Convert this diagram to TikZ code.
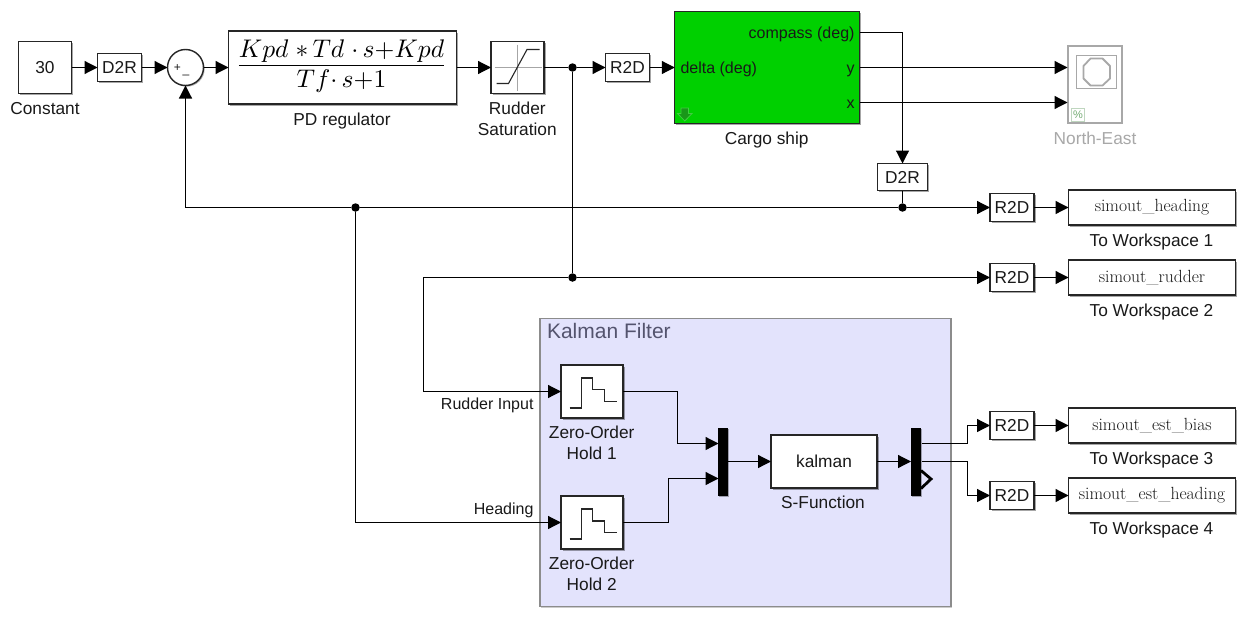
\documentclass[tikz,border=0pt]{standalone}
\usepackage{fontspec}
\setsansfont{Liberation Sans}
\usetikzlibrary{arrows.meta,shadows}
\definecolor{bord}{HTML}{262626}
\definecolor{kal}{HTML}{E3E3FC}
\definecolor{kaltitle}{HTML}{54546E}
\definecolor{cargo}{HTML}{00D000}
\definecolor{dim}{HTML}{A8A8A8}
\tikzset{
  txt/.style={font=\sffamily\fontsize{17.3}{21}\selectfont,inner sep=0pt,outer sep=0pt,text=black!90},
  lbl/.style={txt,anchor=base,xshift=-0.5pt},
  lblc/.style={txt,align=center,xshift=-0.5pt},
  port/.style={txt,font=\sffamily\fontsize{16}{19}\selectfont},
  block/.style={txt,draw=bord,fill=white,line width=1.4pt,inner sep=0pt,outer sep=0pt,
     drop shadow={shadow xshift=1.5pt,shadow yshift=-1.5pt,fill=black,opacity=0.35}},
  conv/.style={block,minimum width=44pt,minimum height=28pt},
  ws/.style={block,minimum width=167pt,minimum height=35pt,font=\rmfamily\fontsize{17.6}{20}\selectfont},
  zoh/.style={block,minimum width=62pt,minimum height=53pt},
  barblk/.style={draw=none,fill=black,inner sep=0pt,outer sep=0pt,minimum width=10pt,minimum height=68pt,
     drop shadow={shadow xshift=1pt,shadow yshift=-1pt,fill=black,opacity=0.3}},
  wire/.style={line width=1.2pt,draw=black,-{Triangle[length=13pt,width=13pt]}},
  line/.style={line width=1.2pt,draw=black},
  dotj/.style={circle,fill=black,inner sep=0pt,minimum size=8.5pt},
  icon/.style={line width=1.1pt,draw=bord},
  axisg/.style={line width=0.8pt,draw=black!35},
  sig/.style={txt,font=\sffamily\fontsize{16}{18}\selectfont,anchor=base east}
}
\begin{document}
\begin{tikzpicture}[x=1pt,y=-1pt]
\useasboundingbox (0,0) rectangle (1249,621);
\fill[white] (0,0) rectangle (1249,621);
\begin{scope}[shift={(0.5,0.5)}]
% Kalman area
\node[draw=black!45,fill=kal,line width=1.1pt,minimum width=411pt,minimum height=288pt,inner sep=0pt,outer sep=0pt,
      drop shadow={shadow xshift=1pt,shadow yshift=-1pt,fill=black,opacity=0.2}] (kf) at (745,462) {};
\node[txt,anchor=base west,font=\sffamily\fontsize{21}{24}\selectfont,text=kaltitle] (kft) at (546.5,338) {Kalman Filter};
% top row
\node[block,minimum width=53pt,minimum height=52pt] (const) at (44.5,67) {30};
\node[lbl] (constl) at (45,114) {Constant};
\node[conv] (d2r1) at (119,67) {D2R};
\node[draw=bord,fill=white,circle,line width=1.4pt,minimum size=36pt,inner sep=0pt,outer sep=0pt,
      drop shadow={shadow xshift=1.2pt,shadow yshift=-1.2pt,fill=black,opacity=0.3}] (sum) at (185,67) {};
\node[txt,font=\sffamily\fontsize{12}{14}\selectfont] (sump) at (177,68) {+};
\node[txt,font=\sffamily\fontsize{12}{14}\selectfont] (summ) at (185.5,74) {\_};
\node[block,minimum width=228pt,minimum height=73pt] (pd) at (342,67) {};
\node[inner sep=0pt,outer sep=0pt,scale=2.55,anchor=base] (pdf) at (341,71) {$\frac{\displaystyle Kpd\;{*}\,Td\;{\cdot}\,s{+}Kpd\rule[-2.4pt]{0pt}{1pt}}{\displaystyle\rule{0pt}{8pt}Tf{\cdot}\,s{+}1}$};
\node[lbl] (pdl) at (342,125) {PD regulator};
\node[block,minimum width=53pt,minimum height=52pt] (sat) at (517,67) {};
\draw[axisg] (517,44) -- (517,90) (494,67) -- (541,67);
\draw[icon] (496,83) -- (508,83) -- (526.5,49) -- (539,49);
\node[lblc] (satl) at (517.3,118.3) {Rudder\\Saturation};
\node[conv] (r2d0) at (627,67) {R2D};
\node[block,fill=cargo,minimum width=184.5pt,minimum height=112pt] (ship) at (766.5,67) {};
\node[port,anchor=base west] (shipd) at (680,72.5) {delta (deg)};
\node[port,anchor=base east] (shipc) at (854,37.5) {compass (deg)};
\node[port,anchor=base east] (shipy) at (854,72.5) {y};
\node[port,anchor=base east] (shipx) at (854,107.5) {x};
\filldraw[fill=green!55!black!90,draw=green!75!black!75,line width=0.8pt] (680.5,107.5) -- (688,107.5) -- (688,113) -- (691.5,113) -- (684.3,120.5) -- (677,113) -- (680.5,113) -- cycle;
\node[lbl] (shipl) at (766.7,144) {Cargo ship};
% scope
\node[draw=dim,fill=white,line width=2.6pt,minimum width=54pt,minimum height=77pt,inner sep=0pt,outer sep=0pt] (scope) at (1094.5,84) {};
\draw[draw=dim,line width=0.9pt] (1076,55) rectangle (1116,88);
\draw[draw=dim,line width=1.8pt,line join=round] (1090,58) -- (1102,58) -- (1109.5,65.5) -- (1109.5,78) -- (1102,85) -- (1090,85) -- (1083,78) -- (1083,65.5) -- cycle;
\node[draw=green!35!black!25,fill=white,line width=0.8pt,minimum width=13pt,minimum height=13pt,inner sep=0pt,text=green!40!black!55,font=\sffamily\fontsize{11}{12}\selectfont] (pct) at (1077.5,114.5) {\%};
\node[lbl,text=dim] (scopel) at (1095,144) {North-East};
\node[conv,minimum width=50pt,minimum height=27pt] (d2r2) at (902,176.5) {D2R};
% right column
\node[conv] (r2d1) at (1011.5,207) {R2D};
\node[ws] (ws1) at (1151.5,207) {simout\_heading};
\node[lbl] (ws1l) at (1151.5,246) {To Workspace 1};
\node[conv] (r2d2) at (1011.5,277) {R2D};
\node[ws] (ws2) at (1151.5,277) {simout\_rudder};
\node[lbl] (ws2l) at (1151.5,316) {To Workspace 2};
\node[conv] (r2d3) at (1011.5,425) {R2D};
\node[ws] (ws3) at (1151.5,425) {simout\_est\_bias};
\node[lbl] (ws3l) at (1151.5,464) {To Workspace 3};
\node[conv] (r2d4) at (1011.5,495) {R2D};
\node[ws] (ws4) at (1151.5,495) {simout\_est\_heading};
\node[lbl] (ws4l) at (1151.5,534) {To Workspace 4};
% zero-order holds
\node[zoh] (zoh1) at (591.5,391) {};
\draw[icon] (569,407.5) -- (581,407.5) -- (581,377.5) -- (592.3,377.5) -- (592.3,389) -- (604,389) -- (604,400.7) -- (616,400.7);
\node[lblc] (zoh1l) at (591.7,442.2) {Zero-Order\\Hold 1};
\node[zoh] (zoh2) at (591.5,522) {};
\draw[icon] (569,538.5) -- (581,538.5) -- (581,508.5) -- (592.3,508.5) -- (592.3,520.5) -- (604,520.5) -- (604,532) -- (616,532);
\node[lblc] (zoh2l) at (591.7,573.2) {Zero-Order\\Hold 2};
\node[barblk] (mux) at (722.5,461) {};
\node[block,minimum width=106pt,minimum height=53pt] (kalman) at (823.5,461) {kalman};
\node[lbl] (kalmanl) at (823,508) {S-Function};
\node[barblk] (demux) at (915.5,461) {};
\draw[line width=2.8pt,line cap=butt] (920.5,470) -- (930.5,478.5) -- (920.5,488);
% junctions and bends
\node[dotj] (j1) at (572,67) {};
\node[dotj] (j2) at (902,207) {};
\node[dotj] (j3) at (355,207) {};
\node[dotj] (j4) at (572,277) {};
\coordinate (c1) at (902,32);
\coordinate (shipoc) at (859,32);
\coordinate (shipoy) at (859,67);
\coordinate (shipox) at (859,102);
\coordinate (scopey) at (1067,67);
\coordinate (scopex) at (1067,102);
\coordinate (fb) at (185,207);
\coordinate (rb1) at (423,277);
\coordinate (rb2) at (423,391);
\coordinate (hb) at (355,522);
\coordinate (z1a) at (677,391);
\coordinate (z1b) at (677,443);
\coordinate (muxa) at (718,443);
\coordinate (z2a) at (668,522);
\coordinate (z2b) at (668,478);
\coordinate (muxb) at (718,478);
\coordinate (dma) at (921,443);
\coordinate (dmb) at (921,461);
\coordinate (d1a) at (967,443);
\coordinate (d1b) at (967,425);
\coordinate (d2a) at (967,461);
\coordinate (d2b) at (967,495);
% wires
\draw[wire] (const.east) -- (d2r1.west);
\draw[wire] (d2r1.east) -- (sum.west);
\draw[wire] (sum.east) -- (pd.west);
\draw[wire] (pd.east) -- (sat.west);
\draw[line] (sat.east) -- (j1);
\draw[wire] (j1) -- (r2d0.west);
\draw[wire] (r2d0.east) -- (ship.west);
\draw[wire] (shipoy) -- (scopey);
\draw[wire] (shipox) -- (scopex);
\draw[wire] (shipoc) -- (c1) -- (d2r2.north);
\draw[line] (d2r2.south) -- (j2);
\draw[wire] (j2) -- (r2d1.west);
\draw[line] (j2) -- (j3);
\draw[wire] (j3) -- (fb) -- (sum.south);
\draw[line] (j1) -- (j4);
\draw[wire] (j4) -- (r2d2.west);
\draw[wire] (j4) -- (rb1) -- (rb2) -- (zoh1.west);
\draw[wire] (j3) -- (hb) -- (zoh2.west);
\draw[wire] (r2d1.east) -- (ws1.west);
\draw[wire] (r2d2.east) -- (ws2.west);
\draw[wire] (r2d3.east) -- (ws3.west);
\draw[wire] (r2d4.east) -- (ws4.west);
\draw[wire] (zoh1.east) -- (z1a) -- (z1b) -- (muxa);
\draw[wire] (zoh2.east) -- (z2a) -- (z2b) -- (muxb);
\draw[wire] (mux.east) -- (kalman.west);
\draw[wire] (kalman.east) -- (demux.west);
\draw[wire] (dma) -- (d1a) -- (d1b) -- (r2d3.west);
\draw[wire] (dmb) -- (d2a) -- (d2b) -- (r2d4.west);
\node[sig] (rudi) at (533,409) {Rudder Input};
\node[sig] (head) at (533,514) {Heading};
\end{scope}
\end{tikzpicture}
\end{document}
